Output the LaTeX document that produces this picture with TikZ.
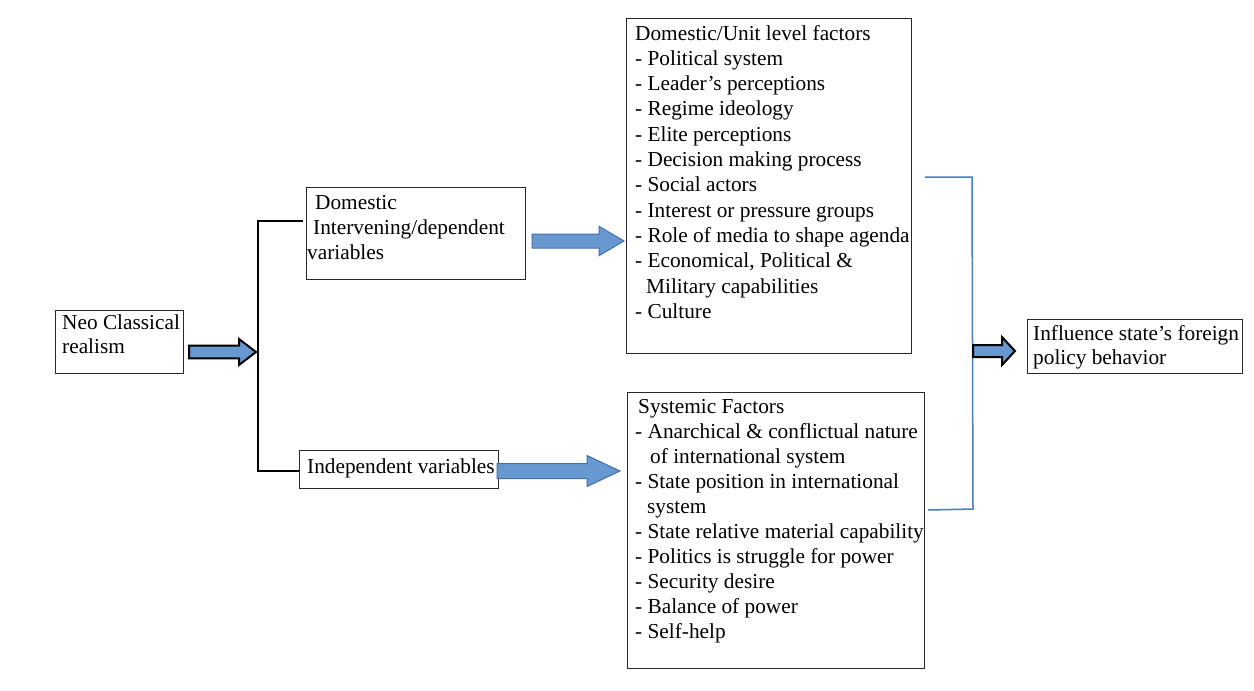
\documentclass[tikz,border=0pt]{standalone}
\usepackage{fontspec}
\setmainfont{Liberation Serif}
\usetikzlibrary{calc}
\definecolor{arrfill}{RGB}{104,152,208}
\definecolor{arrline}{RGB}{65,113,170}
\definecolor{brblue}{RGB}{74,126,187}
\definecolor{boxline}{RGB}{40,40,40}
\newcommand\blockarr[6]{\path[#1] let \p1=(#2), \p2=(#3) in
  (\x1,\y1+#4pt) -- (\x2+#6pt,\y1+#4pt) -- (\x2+#6pt,\y1+#5pt) -- (\x2,\y1) --
  (\x2+#6pt,\y1-#5pt) -- (\x2+#6pt,\y1-#4pt) -- (\x1,\y1-#4pt) -- cycle;}
\begin{document}
\begin{tikzpicture}[x=1pt,y=-1pt,
  box/.style={draw=boxline,line width=1.2pt,inner sep=0pt,anchor=north west},
  txt/.style={inner sep=0pt,anchor=base west,align=left,font=\fontsize{21.3}{#1}\selectfont},
  txt/.default=25.3,
  blackarr/.style={fill=arrfill,draw=black,line width=2pt,line join=miter},
  bluearr/.style={fill=arrfill,draw=arrline,line width=1pt,line join=miter},
  blkbracket/.style={draw=black,line width=2.5pt},
  bluebracket/.style={draw=brblue,line width=1.5pt}]
\useasboundingbox (0,0) rectangle (1254,691);

% boxes
\node[box,minimum width=128pt,minimum height=63pt] (neo) at (55,310) {};
\node[box,minimum width=219pt,minimum height=92pt] (dom) at (306,187) {};
\node[box,minimum width=199pt,minimum height=38pt] (indep) at (299,450) {};
\node[box,minimum width=285pt,minimum height=335pt] (unit) at (626,18) {};
\node[box,minimum width=297pt,minimum height=276pt] (sys) at (627,392) {};
\node[box,minimum width=215pt,minimum height=54pt] (infl) at (1027,319) {};

% texts (anchored at the baseline of their last line)
\node[txt=24] (neotxt) at (62,353) {Neo Classical\\realism};
\node[txt=25] (domtxt) at (307,259) {\hspace*{8pt}Domestic\\\hspace*{6pt}Intervening/dependent\\variables};
\node[txt] (indtxt) at (307,473) {Independent variables};
\node[txt=25.3] (unittxt) at (635,318.3) {Domestic/Unit level factors\\
- Political system\\
- Leader’s perceptions\\
- Regime ideology\\
- Elite perceptions\\
- Decision making process\\
- Social actors\\
- Interest or pressure groups\\
- Role of media to shape agenda\\
- Economical, Political \&\\
\hspace*{11pt}Military capabilities\\
- Culture};
\node[txt=25] (systxt) at (635,638) {\hspace*{3pt}Systemic Factors\\
- Anarchical \& conflictual nature\\
\hspace*{15pt}of international system\\
- State position in international\\
\hspace*{12pt}system\\
- State relative material capability\\
- Politics is struggle for power\\
- Security desire\\
- Balance of power\\
- Self-help};
\node[txt=24] (infltxt) at (1033,364) {Influence state’s foreign\\policy behavior};

% connector coordinates
\coordinate (a1s) at (189,352);
\coordinate (a1e) at (256,352);
\coordinate (a2s) at (532,241);
\coordinate (a2e) at (624,241);
\coordinate (a3s) at (497,471);
\coordinate (a3e) at (620,471);
\coordinate (a4s) at (973,351);
\coordinate (a4e) at (1015,351);
\coordinate (bt) at (258,221);
\coordinate (bb) at (258,471);
\coordinate (dtop) at (303,221);
\coordinate (rt0) at (925,177);
\coordinate (rt) at (972,177);
\coordinate (rb) at (973,509);
\coordinate (rb0) at (928,510);

% black bracket
\draw[blkbracket] (dtop) -- (bt) -- (bb) -- (indep.west |- bb);
% blue bracket
\draw[bluebracket] (rt0) -- (rt) -- (rb) -- (rb0);

% block arrows
\blockarr{blackarr}{a1s}{a1e}{6.3}{13}{-17}
\blockarr{bluearr}{a2s}{a2e}{7}{14.7}{-25}
\blockarr{bluearr}{a3s}{a3e}{7.5}{15.5}{-33}
\blockarr{blackarr}{a4s}{a4e}{6}{14}{-13}
\end{tikzpicture}
\end{document}
